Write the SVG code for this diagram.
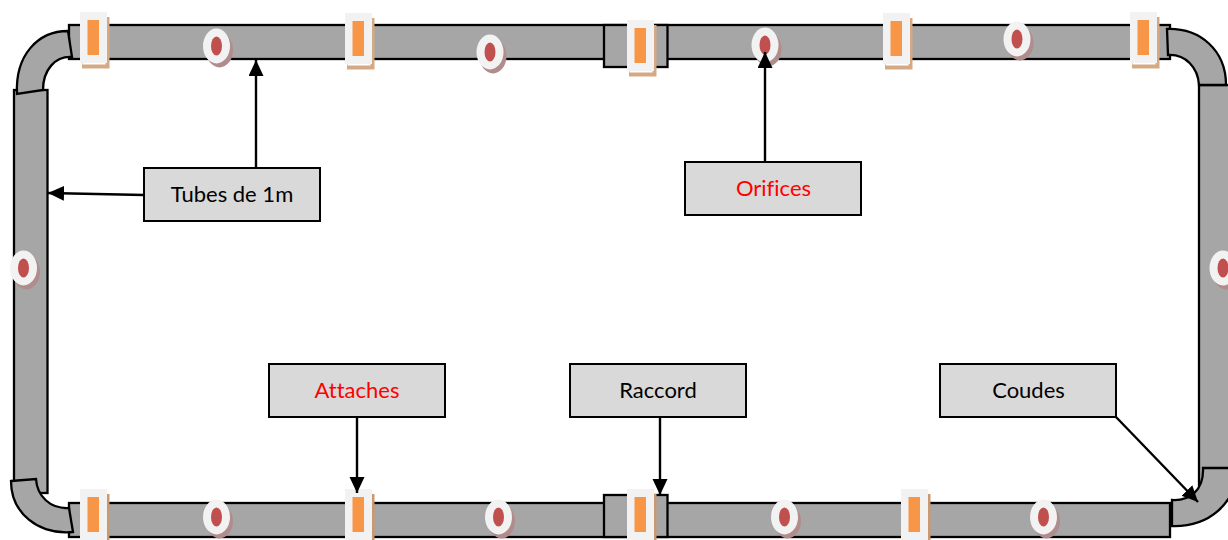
<svg xmlns="http://www.w3.org/2000/svg" xmlns:xlink="http://www.w3.org/1999/xlink" width="1228" height="540" viewBox="0 0 1228 540">
<style>
.p{fill:#a6a6a6;stroke:#000;stroke-width:2.300}
.box{fill:#d9d9d9;stroke:#000;stroke-width:2}
.t{font-family:"Lato","Liberation Sans",sans-serif;font-size:22px;text-anchor:middle;fill:#000;font-variant-ligatures:none}
.r{fill:#f00}
.c{stroke:#000;stroke-width:2.400;fill:none;marker-end:url(#a)}
</style>
<defs>
<marker id="a" markerUnits="userSpaceOnUse" markerWidth="18" markerHeight="18" refX="16" refY="7.500" orient="auto"><path d="M0 0L16 7.500L0 15Z" fill="#000"/></marker>
<g id="clip"><rect x="2" y="5" width="27.500" height="51.500" fill="#d6a985"/><rect x="2.500" y="51" width="23" height="1.500" fill="#fff"/><rect width="27" height="51" fill="#f2f2f2"/><rect x="7.500" y="8" width="11.500" height="35" fill="#f79646"/></g>
<g id="clipb"><rect x="2" y="5" width="27.500" height="51" fill="#c99a70"/><rect width="27" height="52" fill="#f2f2f2"/><rect x="7.500" y="8" width="11.500" height="35" fill="#f79646"/></g>
<g id="eye"><ellipse cx="3" cy="4" rx="13.500" ry="17.500" fill="#b08c8c"/><ellipse cx="0" cy="0" rx="13.500" ry="17.500" fill="#f2f2f2"/><ellipse cx="0" cy="0" rx="5.500" ry="9.500" fill="#c0504d"/></g>
</defs>
<rect width="1228" height="540" fill="#fff"/>
<g id="tubes">
<rect id="tube-top" class="p" x="69" y="25" width="1101" height="34"/>
<rect id="raccord-top" class="p" x="604" y="25" width="63.500" height="42"/>
<rect id="tube-bottom" class="p" x="69" y="503" width="1101" height="34"/>
<rect id="raccord-bottom" class="p" x="604" y="495" width="63.500" height="42"/>
<rect id="tube-left" class="p" x="14" y="90" width="33.500" height="403"/>
<rect id="tube-right" class="p" x="1199" y="85" width="40" height="400"/>
<path id="coude-tl" class="p" d="M17 94C15 55 38 31 68 31L72 57C55 56 43 70 43 90Z"/>
<path id="coude-tr" class="p" d="M1167 29C1200 28 1226 50 1226 85L1199 85C1198 68 1186 54 1168 55Z"/>
<path id="coude-bl" class="p" d="M11 481L36 479C37 496 50 509 69 508L73 532C38 535 11 513 11 481Z"/>
<path id="coude-br" class="p" d="M1203 468L1240 468C1234 504 1210 527 1172 526L1172 500C1190 501 1204 490 1203 468Z"/>
</g>
<g id="attaches">
<use xlink:href="#clip" x="80" y="12"/>
<use xlink:href="#clip" x="345" y="13"/>
<use xlink:href="#clip" x="627" y="20"/>
<use xlink:href="#clip" x="883" y="13"/>
<use xlink:href="#clip" x="1130" y="12"/>
<use xlink:href="#clipb" x="80" y="489"/>
<use xlink:href="#clipb" x="345" y="489"/>
<use xlink:href="#clipb" x="627" y="489"/>
<use xlink:href="#clipb" x="901" y="489"/>
</g>
<g id="orifices">
<use xlink:href="#eye" x="216.500" y="46"/>
<use xlink:href="#eye" x="490" y="52"/>
<use xlink:href="#eye" x="765" y="45"/>
<use xlink:href="#eye" x="1017" y="39"/>
<use xlink:href="#eye" x="23.500" y="268"/>
<use xlink:href="#eye" x="1223" y="268"/>
<use xlink:href="#eye" x="216.500" y="517"/>
<use xlink:href="#eye" x="498.500" y="517"/>
<use xlink:href="#eye" x="784.500" y="517"/>
<use xlink:href="#eye" x="1043.500" y="517"/>
</g>
<g id="connectors">
<path class="c" d="M256 168V60"/>
<path class="c" d="M144 195L48 193"/>
<path class="c" d="M765 162V52"/>
<path class="c" d="M357 417V493"/>
<path class="c" d="M660 417V495"/>
<path class="c" d="M1116 417L1198 502"/>
</g>
<g id="label-tubes"><rect class="box" x="144" y="168" width="176" height="53"/><text class="t" x="232" y="201.700">Tubes de 1m</text></g>
<g id="label-orifices"><rect class="box" x="685" y="162" width="176" height="53"/><text class="t r" x="773.500" y="196">Orifices</text></g>
<g id="label-attaches"><rect class="box" x="269" y="364" width="176" height="53"/><text class="t r" x="357" y="398">Attaches</text></g>
<g id="label-raccord"><rect class="box" x="570" y="364" width="176" height="53"/><text class="t" x="658" y="398">Raccord</text></g>
<g id="label-coudes"><rect class="box" x="940" y="364" width="176" height="53"/><text class="t" x="1028.500" y="398">Coudes</text></g>
</svg>
